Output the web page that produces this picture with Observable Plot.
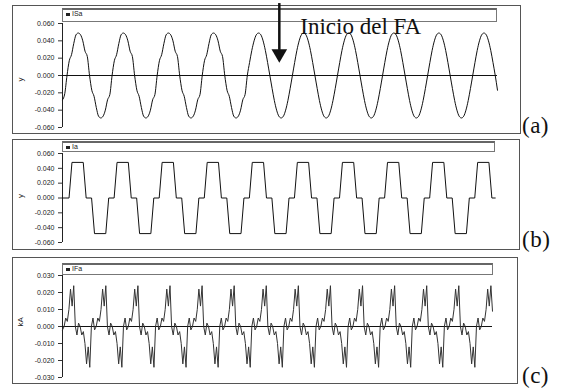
<!DOCTYPE html>
<html><head><meta charset="utf-8">
<script src="https://cdn.jsdelivr.net/npm/d3@7"></script>
<script src="https://cdn.jsdelivr.net/npm/@observablehq/plot@0.6"></script>
<style>
body{margin:0;background:#fff;}
#wrap{position:relative;width:561px;height:389px;overflow:hidden;font-family:"Liberation Sans",Arial,sans-serif;}
.box{position:absolute;border:1px solid #555;box-sizing:border-box;}
.leg{position:absolute;border:1px solid #777;border-top:2px solid #666;box-sizing:border-box;font-size:7px;line-height:8px;padding-left:3px;color:#222;}
.leg i{display:inline-block;width:4px;height:3px;background:#222;margin-right:2px;vertical-align:middle;}
.tag{position:absolute;font-family:"Liberation Serif","Times New Roman",serif;font-size:23px;line-height:23px;color:#111;letter-spacing:0.5px;}
.plot{position:absolute;left:0;}
</style></head><body><div id="wrap"></div>
<script>
// ---------- data ----------
// (a) ISa, one sample per ms (index = time in ms)
const isaValues = [
 -0.028,-0.021,
 0.000,0.017,0.024,0.037,0.047,0.049,0.047,0.040,0.028,0.022,0.000,-0.017,-0.024,-0.037,-0.047,-0.049,-0.047,-0.040,-0.028,-0.022,
 0.000,0.017,0.024,0.037,0.047,0.049,0.047,0.040,0.028,0.022,0.000,-0.017,-0.024,-0.037,-0.047,-0.049,-0.047,-0.040,-0.028,-0.022,
 0.000,0.017,0.024,0.037,0.047,0.049,0.047,0.040,0.028,0.022,0.000,-0.017,-0.024,-0.037,-0.047,-0.049,-0.047,-0.040,-0.028,-0.022,
 0.000,0.017,0.024,0.037,0.047,0.049,0.047,0.040,0.028,0.022,0.000,-0.017,-0.024,-0.037,-0.047,-0.049,-0.047,-0.040,-0.028,-0.022,
 0.000,0.015,0.029,0.040,0.047,0.049,0.047,0.040,0.029,0.015,0.000,-0.015,-0.029,-0.040,-0.047,-0.049,-0.047,-0.040,-0.029,-0.015,
 0.000,0.015,0.029,0.040,0.047,0.049,0.047,0.040,0.029,0.015,0.000,-0.015,-0.029,-0.040,-0.047,-0.049,-0.047,-0.040,-0.029,-0.015,
 0.000,0.015,0.029,0.040,0.047,0.049,0.047,0.040,0.029,0.015,0.000,-0.015,-0.029,-0.040,-0.047,-0.049,-0.047,-0.040,-0.029,-0.015,
 0.000,0.015,0.029,0.040,0.047,0.049,0.047,0.040,0.029,0.015,0.000,-0.015,-0.029,-0.040,-0.047,-0.049,-0.047,-0.040,-0.029,-0.015,
 0.000,0.015,0.029,0.040,0.047,0.049,0.047,0.040,0.029,0.015,0.000,-0.015,-0.029,-0.040,-0.047,-0.049,-0.047,-0.040,-0.029,-0.015,
 0.000,0.015,0.029,0.040,0.047,0.049,0.047,0.040,0.029,0.015,0.000,-0.017
];
// (b) Ia, corner points of the trapezoidal wave (time in ms, value)
const iaTime = [0,
 2.9,4.2,9.2,10.5,12.9,14.2,19.2,20.5,
 22.9,24.2,29.2,30.5,32.9,34.2,39.2,40.5,
 42.9,44.2,49.2,50.5,52.9,54.2,59.2,60.5,
 62.9,64.2,69.2,70.5,72.9,74.2,79.2,80.5,
 82.9,84.2,89.2,90.5,92.9,94.2,99.2,100.5,
 102.9,104.2,109.2,110.5,112.9,114.2,119.2,120.5,
 122.9,124.2,129.2,130.5,132.9,134.2,139.2,140.5,
 142.9,144.2,149.2,150.5,152.9,154.2,159.2,160.5,
 162.9,164.2,169.2,170.5,172.9,174.2,179.2,180.5,
 182.9,184.2,189.2,190.5,192];
const iaValues = [0,
 0,0.048,0.048,0,0,-0.048,-0.048,0,
 0,0.048,0.048,0,0,-0.048,-0.048,0,
 0,0.048,0.048,0,0,-0.048,-0.048,0,
 0,0.048,0.048,0,0,-0.048,-0.048,0,
 0,0.048,0.048,0,0,-0.048,-0.048,0,
 0,0.048,0.048,0,0,-0.048,-0.048,0,
 0,0.048,0.048,0,0,-0.048,-0.048,0,
 0,0.048,0.048,0,0,-0.048,-0.048,0,
 0,0.048,0.048,0,0,-0.048,-0.048,0,
 0,0.048,0.048,0,0];
// (c) IFa in kA, one sample per time unit
const ifaValues = [
 -0.002,
 0.000,0.005,0.003,0.010,0.022,0.012,0.024,0.000,-0.005,0.002,0.000,-0.005,-0.003,-0.010,-0.022,-0.012,-0.024,0.000,0.005,-0.002,
 0.000,0.005,0.003,0.010,0.022,0.012,0.024,0.000,-0.005,0.002,0.000,-0.005,-0.003,-0.010,-0.022,-0.012,-0.024,0.000,0.005,-0.002,
 0.000,0.005,0.003,0.010,0.022,0.012,0.024,0.000,-0.005,0.002,0.000,-0.005,-0.003,-0.010,-0.022,-0.012,-0.024,0.000,0.005,-0.002,
 0.000,0.005,0.003,0.010,0.022,0.012,0.024,0.000,-0.005,0.002,0.000,-0.005,-0.003,-0.010,-0.022,-0.012,-0.024,0.000,0.005,-0.002,
 0.000,0.005,0.003,0.010,0.022,0.012,0.024,0.000,-0.005,0.002,0.000,-0.005,-0.003,-0.010,-0.022,-0.012,-0.024,0.000,0.005,-0.002,
 0.000,0.005,0.003,0.010,0.022,0.012,0.024,0.000,-0.005,0.002,0.000,-0.005,-0.003,-0.010,-0.022,-0.012,-0.024,0.000,0.005,-0.002,
 0.000,0.005,0.003,0.010,0.022,0.012,0.024,0.000,-0.005,0.002,0.000,-0.005,-0.003,-0.010,-0.022,-0.012,-0.024,0.000,0.005,-0.002,
 0.000,0.005,0.003,0.010,0.022,0.012,0.024,0.000,-0.005,0.002,0.000,-0.005,-0.003,-0.010,-0.022,-0.012,-0.024,0.000,0.005,-0.002,
 0.000,0.005,0.003,0.010,0.022,0.012,0.024,0.000,-0.005,0.002,0.000,-0.005,-0.003,-0.010,-0.022,-0.012,-0.024,0.000,0.005,-0.002,
 0.000,0.005,0.003,0.010,0.022,0.012,0.024,0.000,-0.005,0.002,0.000,-0.005,-0.003,-0.010,-0.022,-0.012,-0.024,0.000,0.005,-0.002,
 0.000,0.005,0.003,0.010,0.022,0.012,0.024,0.000,-0.005,0.002,0.000,-0.005,-0.003,-0.010,-0.022,-0.012,-0.024,0.000,0.005,-0.002,
 0.000,0.005,0.003,0.010,0.022,0.012,0.024,0.000,-0.005,0.002,0.000,-0.005,-0.003,-0.010,-0.022,-0.012,-0.024,0.000,0.005,-0.002,
 0.000,0.005,0.003,0.010,0.022,0.012,0.024,0.000,-0.005,0.002,0.000,-0.005,-0.003,-0.010,-0.022,-0.012,-0.024,0.000,0.005,-0.002,
 0.000,0.005,0.003,0.010,0.022,0.012,0.024,0.009
];
const ticksAB = [-0.06,-0.04,-0.02,0,0.02,0.04,0.06];
const ticksC = [-0.03,-0.02,-0.01,0,0.01,0.02,0.03];
const seriesNames = ["ISa","Ia","IFa"];
const axisLabels = ["y","y","kA"];
const panelTags = ["(a)","(b)","(c)"];
const annotation = [{label:"Inicio del FA", t:96.2, top:0.083, shaftEnd:0.029, head:0.025, textT:105.5, textY:0.048}];

// ---------- layout ----------
const wrap = document.getElementById("wrap");
function addDiv(cls, l, t, w, h, html) {
  const d = document.createElement("div");
  d.className = cls;
  Object.assign(d.style, {left: l + "px", top: t + "px"});
  if (w != null) d.style.width = w + "px";
  if (h != null) d.style.height = h + "px";
  if (html != null) d.innerHTML = html;
  wrap.appendChild(d);
  return d;
}
const boxes = [[12,5,509,129],[12,139,508,111],[12,257,506,127]];
const legends = [[62,8,435,14],[62,141,433,11],[62,263,431,12]];
const tagPos = [[522,114],[522,228],[522,364]];
boxes.forEach(b => addDiv("box", ...b));
legends.forEach((l, i) => addDiv("leg", ...l, "<i></i>" + seriesNames[i]));

function panel(o) {
  const marks = [
    Plot.ruleX([o.xDomain[0]], {stroke: "#222", strokeWidth: 1}),
    Plot.axisY(o.ticks, {tickSize: 4, tickPadding: 4, tickFormat: d => d.toFixed(3), stroke: "#333", fill: "#222", label: null}),
    Plot.text([o.ylab], {frameAnchor: "left", dx: -42, dy: o.labDy || 0, rotate: -90, fontSize: 8, fill: "#222"}),
    ...(o.zero ? [Plot.ruleY([0], {stroke: "#111", strokeWidth: 1})] : []),
    Plot.line(o.values, {x: (d, i) => o.time ? o.time[i] : i, y: d => d, stroke: o.color || "#111", strokeWidth: 1, curve: o.curve || "linear"}),
    ...(o.extra || [])
  ];
  const svg = Plot.plot({
    width: 561, height: o.height,
    marginLeft: 62, marginRight: o.mr, marginTop: o.mt, marginBottom: o.mb,
    x: {domain: o.xDomain, axis: null},
    y: {domain: o.yDomain, axis: null},
    style: {background: "none", overflow: "visible", fontSize: "7px", fontFamily: "Liberation Sans, Arial, sans-serif"},
    marks
  });
  svg.classList.add("plot");
  svg.style.top = o.top + "px";
  wrap.appendChild(svg);
}

panel({values: isaValues, xDomain: [0,193], yDomain: [-0.06,0.06], ticks: ticksAB, top: 0, height: 133, mt: 23, mb: 6, mr: 64, ylab: axisLabels[0], labDy: 6, zero: true, curve: "monotone-x",
  extra: [
    Plot.ruleX(annotation, {x: "t", y1: "top", y2: "shaftEnd", stroke: "#111", strokeWidth: 2.5}),
    Plot.dot(annotation, {x: "t", y: "head", symbol: "triangle", rotate: 180, r: 5.8, fill: "#111", stroke: "none"}),
    Plot.text(annotation, {x: "textT", y: "textY", text: "label", textAnchor: "start", lineAnchor: "bottom", fontSize: 23, fontFamily: "Liberation Serif, Times New Roman, serif", fill: "#111"})
  ]});
panel({values: iaValues, time: iaTime, xDomain: [0,193], yDomain: [-0.06,0.06], ticks: ticksAB, top: 139, height: 110, mt: 14, mb: 7, mr: 64, ylab: axisLabels[1], zero: false});
panel({values: ifaValues, xDomain: [0,268], yDomain: [-0.03,0.03], ticks: ticksC, top: 257, height: 126, mt: 18, mb: 6, mr: 69, ylab: axisLabels[2], zero: true, color: "#333"});

tagPos.forEach((p, i) => addDiv("tag", p[0], p[1], null, null, panelTags[i]));
</script></body></html>
